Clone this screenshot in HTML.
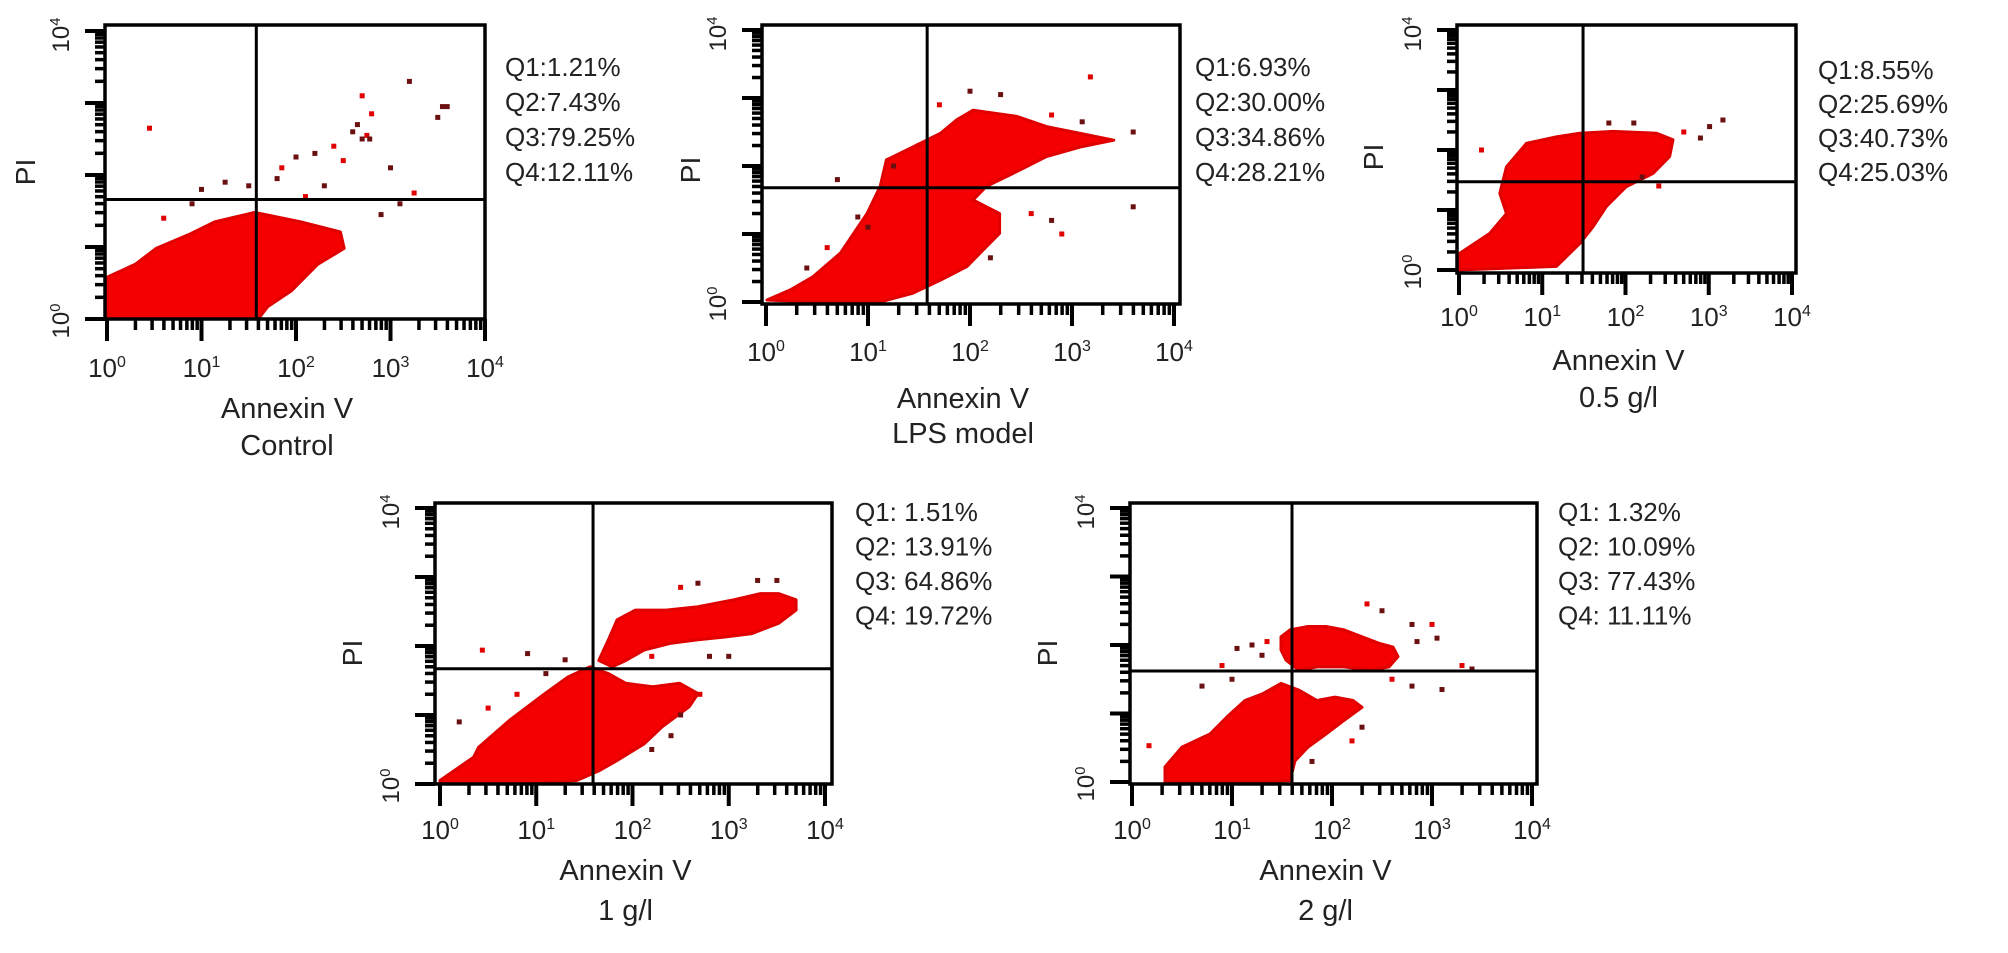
<!DOCTYPE html>
<html><head><meta charset="utf-8"><style>
html,body{margin:0;padding:0;background:#fff;}
svg{display:block;font-family:"Liberation Sans",Arial,sans-serif;}
</style></head><body>
<svg id="fig" width="2008" height="953" viewBox="0 0 2008 953" xmlns="http://www.w3.org/2000/svg"></svg>
<script>
// ---- data (log10 units, 0..4 decades) ----
const p1BlobX=[0,0,0.30,0.52,0.86,1.14,1.56,2.05,2.47,2.51,2.23,1.95,1.70,1.60];
const p1BlobY=[0,0.58,0.76,0.98,1.17,1.35,1.48,1.35,1.21,0.98,0.76,0.39,0.17,0];
const p1DotsX=[0.45,1.25,1.5,1.85,2.0,2.2,2.4,2.6,2.65,2.8,3.0,3.1,3.25,3.55,3.6,2.1,2.3,1.8,2.5,2.7,0.9,0.6,1.0,2.9,2.7,3.2,3.5,2.75,2.78];
const p1DotsY=[2.65,1.9,1.85,2.1,2.25,2.3,2.4,2.6,2.7,2.85,2.1,1.6,1.75,2.95,2.95,1.7,1.85,1.95,2.2,2.5,1.6,1.4,1.8,1.45,3.1,3.3,2.8,2.55,2.5];
const p2BlobX=[0.01,0.24,0.46,0.73,0.99,1.12,1.18,1.44,1.71,1.87,2.03,2.46,2.75,3.08,3.41,3.08,2.75,2.42,2.16,2.03,2.29,2.29,2.10,1.97,1.71,1.44,1.12,0.46];
const p2BlobY=[0.03,0.18,0.37,0.72,1.30,1.70,2.09,2.28,2.48,2.68,2.82,2.73,2.58,2.48,2.38,2.28,2.14,1.89,1.70,1.50,1.30,1.01,0.72,0.52,0.32,0.13,0,0];
const p2DotsX=[3.18,0.7,1.25,1.5,0.9,1.0,2.6,2.8,3.6,1.7,2.0,2.3,2.8,3.1,3.6,0.6,0.4,2.2,2.9];
const p2DotsY=[3.31,1.8,2.0,2.3,1.25,1.1,1.3,1.2,1.4,2.9,3.1,3.05,2.75,2.65,2.5,0.8,0.5,0.65,1.0];
const p3BlobX=[0,0.01,0.37,0.57,0.49,0.57,0.81,1.17,1.45,1.85,2.37,2.57,2.53,2.33,2.01,1.77,1.61,1.45,1.17,0];
const p3BlobY=[0.06,0.28,0.61,0.94,1.28,1.72,2.11,2.22,2.28,2.31,2.28,2.17,1.89,1.61,1.39,1.06,0.72,0.44,0.06,0];
const p3DotsX=[0.27,3.01,3.17,2.7,2.9,2.2,2.4,1.8,2.1];
const p3DotsY=[2.0,2.39,2.5,2.3,2.2,1.55,1.4,2.45,2.45];
const p4BlobAX=[0,0.35,0.40,0.72,1.09,1.33,1.56,1.75,1.93,2.21,2.49,2.68,2.59,2.31,2.12,1.84,1.65,1.42,0.95,0];
const p4BlobAY=[0.05,0.39,0.53,0.92,1.31,1.55,1.70,1.60,1.46,1.41,1.46,1.31,1.12,0.83,0.58,0.34,0.19,0.05,0,0];
const p4BlobBX=[1.75,1.84,2.03,2.35,2.68,3.05,3.33,3.52,3.70,3.70,3.52,3.24,2.96,2.68,2.40,2.12,1.93,1.79,1.65];
const p4BlobBY=[2.09,2.38,2.52,2.52,2.57,2.67,2.76,2.76,2.67,2.52,2.33,2.18,2.13,2.09,2.04,1.94,1.79,1.70,1.79];
const p4DotsX=[0.44,0.91,2.68,2.5,3.3,3.5,2.2,2.8,3.0,2.7,2.5,0.2,0.8,1.1,1.3,0.5,2.2,2.4];
const p4DotsY=[1.94,1.89,2.91,2.85,2.95,2.95,1.85,1.85,1.85,1.3,1.0,0.9,1.3,1.6,1.8,1.1,0.5,0.7];
const p5BlobAX=[0.33,0.50,0.78,0.95,1.13,1.31,1.49,1.67,1.85,2.03,2.21,2.30,2.12,1.94,1.76,1.63,1.58,1.22,0.33];
const p5BlobAY=[0.22,0.51,0.70,0.95,1.19,1.29,1.44,1.34,1.19,1.24,1.19,1.09,0.90,0.70,0.51,0.31,0.02,0,0];
const p5BlobBX=[1.49,1.58,1.76,1.94,2.12,2.30,2.48,2.61,2.66,2.57,2.39,2.12,1.85,1.67,1.54,1.49];
const p5BlobBY=[2.12,2.22,2.27,2.27,2.22,2.12,2.02,1.97,1.83,1.68,1.63,1.68,1.68,1.63,1.78,1.93];
const p5DotsX=[0.17,1.05,1.2,1.35,1.3,1.0,2.35,2.5,2.8,3.0,3.05,2.85,3.3,3.4,3.1,2.6,2.8,2.3,2.2,1.8,0.7,0.9];
const p5DotsY=[0.53,1.95,2.0,2.05,1.85,1.5,2.6,2.5,2.3,2.3,2.1,2.05,1.7,1.65,1.35,1.5,1.4,0.8,0.6,0.3,1.4,1.7];
const gateX=[1.58,1.58,1.49,1.59,1.60];
const gateY=[1.66,1.68,1.47,1.67,1.62];
const q1Vals=["1.21%","6.93%","8.55%","1.51%","1.32%"];
const q2Vals=["7.43%","30.00%","25.69%","13.91%","10.09%"];
const q3Vals=["79.25%","34.86%","40.73%","64.86%","77.43%"];
const q4Vals=["12.11%","28.21%","25.03%","19.72%","11.11%"];
const captions=["Control","LPS model","0.5 g/l","1 g/l","2 g/l"];
const xTickExp=["0","1","2","3","4"];

// ---- layout ----
const panels=[
 {box:[105,25,485,319],x0:107,dx:94.5,y0:319,dy:72,q:[505,76,35],tl:377,al:418,cl:455,pi:[25,172],sep:":",blobs:[[p1BlobX,p1BlobY]],dots:[p1DotsX,p1DotsY]},
 {box:[762,25,1180,304],x0:766,dx:102,y0:302,dy:68,q:[1195,76,35],tl:361,al:408,cl:443,pi:[690,170],sep:":",blobs:[[p2BlobX,p2BlobY]],dots:[p2DotsX,p2DotsY]},
 {box:[1457,25,1796,273],x0:1459,dx:83.25,y0:270,dy:60,q:[1818,79,34],tl:326,al:370,cl:407,pi:[1373,157],sep:":",blobs:[[p3BlobX,p3BlobY]],dots:[p3DotsX,p3DotsY]},
 {box:[435,503,832,784],x0:440,dx:96.25,y0:784,dy:69,q:[855,521,34.5],tl:839,al:880,cl:920,pi:[352,653],sep:": ",blobs:[[p4BlobAX,p4BlobAY],[p4BlobBX,p4BlobBY]],dots:[p4DotsX,p4DotsY]},
 {box:[1130,503,1537,784],x0:1132,dx:100,y0:782,dy:68.5,q:[1558,521,34.5],tl:839,al:880,cl:920,pi:[1047,653],sep:": ",blobs:[[p5BlobAX,p5BlobAY],[p5BlobBX,p5BlobBY]],dots:[p5DotsX,p5DotsY]}
];
const NS="http://www.w3.org/2000/svg";
const svg=document.getElementById('fig');
function mk(tag,attrs,parent){const e=document.createElementNS(NS,tag);for(const k in attrs)e.setAttribute(k,attrs[k]);(parent||svg).appendChild(e);return e;}

panels.forEach((p,i)=>{
 const g=mk('g',{});
 
 
 const [l,t,r,b]=p.box;
 const sx=v=>p.x0+v*p.dx;
 const sy=v=>p.y0-v*p.dy;
 const clipId='clip'+i;
 const cp=mk('clipPath',{id:clipId},g);mk('rect',{x:l,y:t,width:r-l,height:b-t},cp);
 const data=mk('g',{'clip-path':'url(#'+clipId+')'},g);
 
 
 p.blobs.forEach(([xs,ys],k)=>{
  const pts=xs.map((x,j)=>sx(x).toFixed(1)+','+sy(ys[j]).toFixed(1)).join(' ');
  const poly=mk('polygon',{points:pts,fill:'#f40000',stroke:'#e00000','stroke-width':3,'stroke-linejoin':'round'},data);
  
  
 });
 const [dX,dY]=p.dots;
 dX.forEach((x,j)=>{
  const d=mk('rect',{x:sx(x)-2.5,y:sy(dY[j])-2.5,width:5,height:5,fill:j%3===0?'#e00000':'#6a1010'},data);
  
  
 });
 // quadrant gates
 const gv=mk('line',{x1:sx(gateX[i]),y1:t,x2:sx(gateX[i]),y2:b,stroke:'#000','stroke-width':3},g);
 
 
 const gh=mk('line',{x1:l,y1:sy(gateY[i]),x2:r,y2:sy(gateY[i]),stroke:'#000','stroke-width':3},g);
 
 
 const box=mk('rect',{x:l,y:t,width:r-l,height:b-t,fill:'none',stroke:'#000','stroke-width':3.5},g);
 
 
 // x ticks
 for(let d=0;d<4;d++){
  for(let m=1;m<10;m++){
   const x=sx(d+Math.log10(m));
   const tk=mk('line',{x1:x,y1:b,x2:x,y2:b+(m===1?22:11),stroke:'#000','stroke-width':m===1?4:3.5},g);
   
   
  }
 }
 const tk4=mk('line',{x1:sx(4),y1:b,x2:sx(4),y2:b+22,stroke:'#000','stroke-width':4},g);
 
 
 // y ticks
 for(let d=0;d<4;d++){
  for(let m=1;m<10;m++){
   const y=sy(d+Math.log10(m));
   const tk=mk('line',{x1:l,y1:y,x2:l-(m===1?20:10),y2:y,stroke:'#000','stroke-width':m===1?4:3.5},g);
   
   
  }
 }
 const ty4=mk('line',{x1:l,y1:sy(4),x2:l-20,y2:sy(4),stroke:'#000','stroke-width':4},g);
 
 
 // x tick labels
 xTickExp.forEach((e,k)=>{
  const tx=mk('text',{x:sx(k),y:p.tl,'font-size':26,'text-anchor':'middle',fill:'#222'},g);
  
  
  tx.innerHTML='10<tspan dy="-10" font-size="16">'+e+'</tspan>';
 });
 // y tick labels (rotated)
 [[0,sy(0)],[4,sy(4)]].forEach(([e,y])=>{
  const tx=mk('text',{x:0,y:0,'font-size':24,'text-anchor':'middle',fill:'#222',transform:'translate('+(l-36)+','+(y+(e===0?2:4))+') rotate(-90)'},g);
  
  
  tx.innerHTML='10<tspan dy="-9" font-size="15">'+e+'</tspan>';
 });
 const pi=mk('text',{x:0,y:0,'font-size':28,'text-anchor':'middle',fill:'#222',transform:'translate('+(p.pi[0]+10)+','+p.pi[1]+') rotate(-90)'},g);
 
 
 pi.textContent='PI';
 const cx=(l+r)/2-8;
 const ax=mk('text',{x:cx,y:p.al,'font-size':29,'text-anchor':'middle',fill:'#222'},g);
 
 
 ax.textContent='Annexin V';
 const cap=mk('text',{x:cx,y:p.cl,'font-size':29,'text-anchor':'middle',fill:'#222'},g);
 
 
 cap.textContent=captions[i];
 [q1Vals,q2Vals,q3Vals,q4Vals].forEach((arr,k)=>{
  const q=mk('text',{x:p.q[0],y:p.q[1]+k*p.q[2],'font-size':26,fill:'#222'},g);
  
  
  q.textContent='Q'+(k+1)+p.sep+arr[i];
 });
});
</script>
</body></html>
